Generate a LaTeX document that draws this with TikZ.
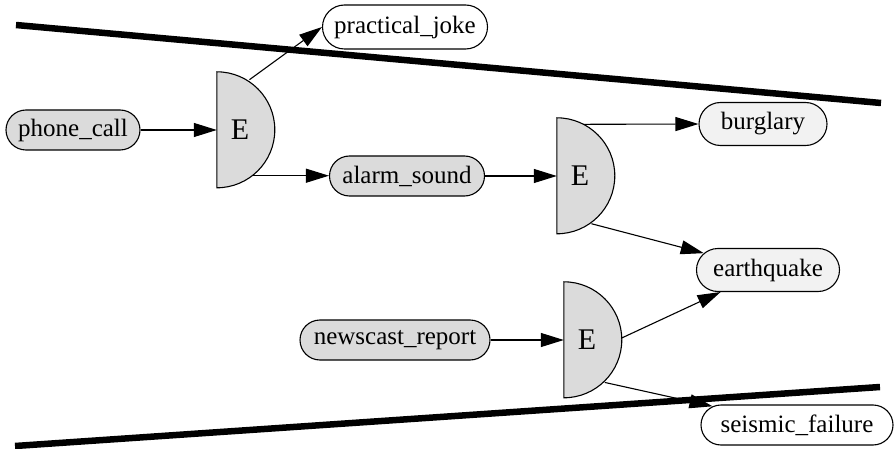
\documentclass[tikz,border=0pt]{standalone}
\usepackage{fontspec}
\setmainfont{Liberation Serif}
\usetikzlibrary{arrows.meta,shapes.misc,calc}
\begin{document}
\begin{tikzpicture}[x=1pt,y=1pt,
  every node/.style={font=\fontsize{25}{30}\selectfont},
  var/.style={rounded rectangle, draw, line width=1.1pt, inner sep=0pt,
    minimum height=40pt},
  obs/.style={var, fill=gray!28},
  hyp/.style={var, fill=gray!10},
  plain/.style={var, fill=white},
  gate/.style={rectangle, inner sep=0pt, minimum width=46pt, minimum height=116pt},
  gateshape/.style={draw, line width=1.1pt, fill=gray!28},
  gatelabel/.style={font=\fontsize{30}{34}\selectfont},
  arr/.style={-{Triangle[length=23pt,width=14pt]}, line width=1.1pt},
  cut/.style={line width=6.5pt}]
  \useasboundingbox (0,0) rectangle (894,-449);

  % explanation gates (half discs with the label E)
  \node[gate] (g1) at (240,-130) {};
  \node[gate] (g2) at (580,-176) {};
  \node[gate] (g3) at (587,-340) {};
  \foreach \g in {g1,g2,g3}
    \draw[gateshape] (\g.north west) arc[start angle=90,end angle=-90,radius=58] -- cycle;
  \foreach \g in {g1,g2,g3}
    \node[gatelabel] at (\g) {E};

  % variables
  \node[obs,  minimum width=134pt] (pc) at (73,-130)  {phone\_call};
  \node[plain,minimum width=165pt,minimum height=44pt] (pj) at (405,-27) {practical\_joke};
  \node[obs,  minimum width=155pt] (al) at (407,-176) {alarm\_sound};
  \node[hyp,  minimum width=128pt,minimum height=43pt] (bg) at (763,-124) {burglary};
  \node[hyp,  minimum width=143pt,minimum height=43pt] (eq) at (768,-270) {earthquake};
  \node[obs,  minimum width=190pt] (nr) at (395,-340) {newscast\_report};
  \node[plain,minimum width=192pt] (sf) at (797,-425) {seismic\_failure};

  % boundary lines
  \coordinate (t1) at (16,-25);
  \coordinate (t2) at (881,-103);
  \coordinate (b1) at (15,-446);
  \coordinate (b2) at (880,-387);
  \draw[cut] (t1) -- (t2);
  \draw[cut] (b1) -- (b2);

  % connectors
  \draw[arr] (pc.east) -- (g1.west);
  \draw[arr] ($(g1.west)+(57:60)$) -- (pj.west);
  \draw[arr] ($(g1.west)+(-52:58)$) -- (al.west |- {$(g1.west)+(-52:58)$});
  \draw[arr] (al.east) -- (g2.west);
  \draw[arr] ($(g2.west)+(63:58)$) -- (bg.west);
  \draw[arr] ($(g2.west)+(-54:59)$) -- (eq);
  \draw[arr] (nr.east) -- (g3.west);
  \draw[arr] ($(g3.west)+(2:58)$) -- (eq);
  \draw[arr] ($(g3.west)+(-46:59)$) -- (sf);
\end{tikzpicture}
\end{document}
